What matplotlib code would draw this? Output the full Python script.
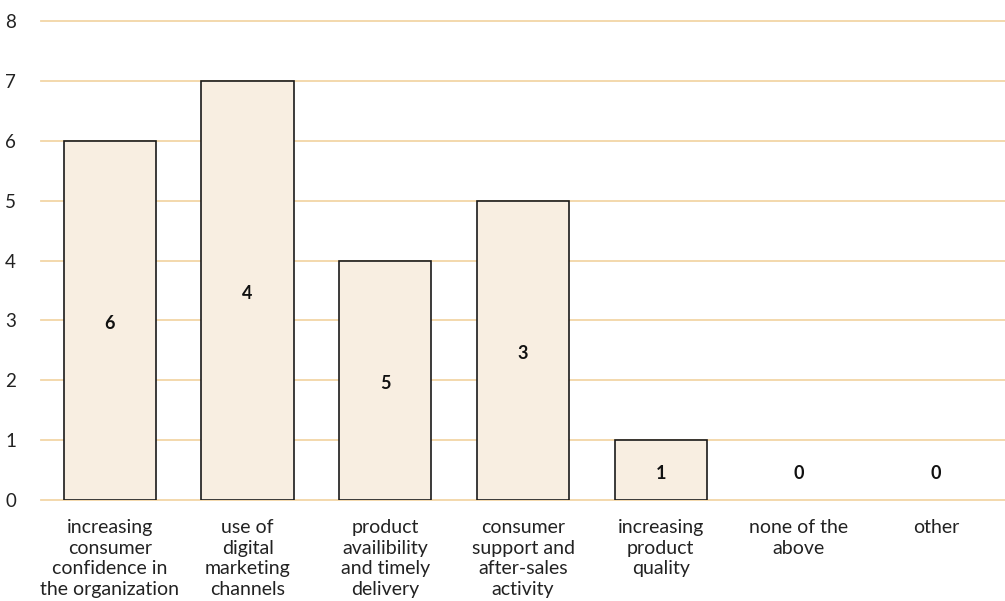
import numpy as np
import matplotlib.pyplot as plt

# Chart data
categories = [
    "increasing\nconsumer\nconfidence in\nthe organization",
    "use of\ndigital\nmarketing\nchannels",
    "product\navailibility\nand timely\ndelivery",
    "consumer\nsupport and\nafter-sales\nactivity",
    "increasing\nproduct\nquality",
    "none of the\nabove",
    "other",
]
values = [6, 7, 4, 5, 1, 0, 0]
bar_labels = ["6", "4", "5", "3", "1", "0", "0"]
y_ticks = [0, 1, 2, 3, 4, 5, 6, 7, 8]

plt.rcParams['font.family'] = ['Lato', 'DejaVu Sans']

fig = plt.figure(figsize=(10.05, 6.01), dpi=100)
ax = fig.add_axes([41 / 1005, 1 - 500 / 601, 1 - 41 / 1005, (500 - 21) / 601])

x = np.arange(len(categories))

# Grid lines behind bars
for t in y_ticks:
    ax.axhline(t, color='#F2D6A6', linewidth=1.3, zorder=0, clip_on=False)

# no outline for empty bars
edges = ['#1a1a1a' if v > 0 else 'none' for v in values]
ax.bar(x, values, width=0.67, color='#F8EEE1', edgecolor=edges,
       linewidth=1.2, zorder=2)

# Labels in the middle of each bar
for xi, v, lab in zip(x, values, bar_labels):
    ax.text(xi, max(v, 1) / 2 - 0.05, lab, ha='center', va='center',
            fontsize=13, fontweight='bold', color='#111111', zorder=3)

ax.set_xlim(-0.5, len(categories) - 0.5)
ax.set_ylim(0, 8)
ax.set_yticks(y_ticks)
ax.set_xticks(x)
ax.set_xticklabels(categories, fontsize=14, color='#222222', linespacing=1.25,
                   va='top')
ax.tick_params(axis='both', length=0)
ax.tick_params(axis='y', pad=18, labelsize=13.5, labelcolor='#222222')
ax.tick_params(axis='x', pad=14)

for s in ax.spines.values():
    s.set_visible(False)

fig.savefig('out.png', dpi=100)
